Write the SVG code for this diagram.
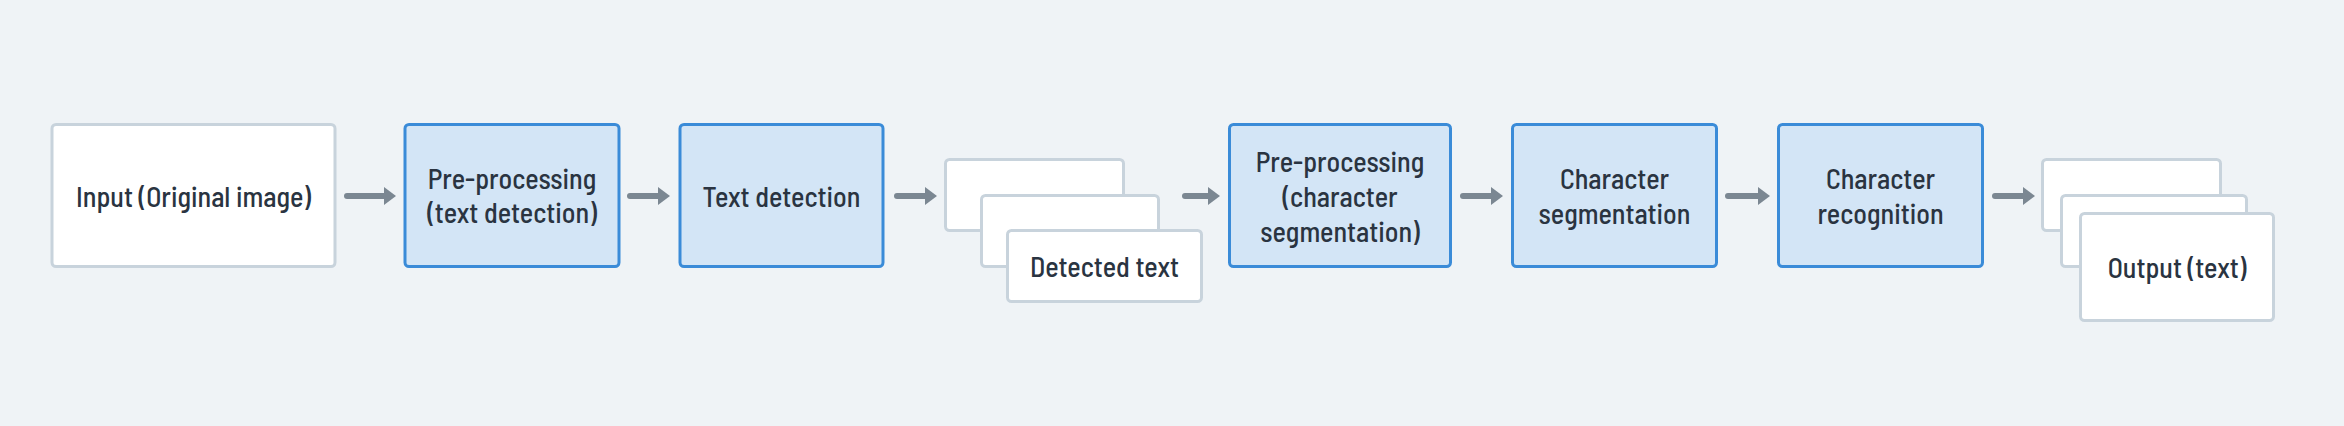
<svg xmlns="http://www.w3.org/2000/svg" width="2344" height="426" viewBox="0 0 2344 426">
<defs>
<style>
.bg{fill:#eff3f6}
.w{fill:#ffffff;stroke:#c8d3dc;stroke-width:3}
.b{fill:#d3e5f6;stroke:#3a8bd8;stroke-width:3}
.t{font-family:"Barlow Semi Condensed","Roboto Condensed","Roboto","Liberation Sans",sans-serif;font-size:28px;font-weight:500;fill:#2a3441;text-anchor:middle;dominant-baseline:central}
.c{stroke:#7b8792;stroke-width:6;stroke-linecap:round;fill:none}
.h{fill:#7b8792}
</style>
</defs>
<rect class="bg" x="0" y="0" width="2344" height="426"/>
<g id="connectors">
<line class="c" x1="347" y1="196" x2="386" y2="196"/><polygon class="h" points="384,187 396,196 384,205"/>
<line class="c" x1="630" y1="196" x2="659" y2="196"/><polygon class="h" points="658,187 670,196 658,205"/>
<line class="c" x1="897" y1="196" x2="926" y2="196"/><polygon class="h" points="925,187 937,196 925,205"/>
<line class="c" x1="1185" y1="196" x2="1209" y2="196"/><polygon class="h" points="1208,187 1220,196 1208,205"/>
<line class="c" x1="1463" y1="196" x2="1492" y2="196"/><polygon class="h" points="1491,187 1503,196 1491,205"/>
<line class="c" x1="1728" y1="196" x2="1759" y2="196"/><polygon class="h" points="1758,187 1770,196 1758,205"/>
<line class="c" x1="1995" y1="196" x2="2024" y2="196"/><polygon class="h" points="2023,187 2035,196 2023,205"/>
</g>
<g id="input"><rect class="w" x="52" y="124.5" width="283" height="142" rx="4"/><text class="t" x="193.5" y="196">Input (Original image)</text></g>
<g id="preproc-text"><rect class="b" x="405" y="124.5" width="214" height="142" rx="4"/><text class="t" x="512" y="178">Pre-processing</text><text class="t" x="512" y="212">(text detection)</text></g>
<g id="text-detection"><rect class="b" x="680" y="124.5" width="203" height="142" rx="4"/><text class="t" x="781.5" y="196">Text detection</text></g>
<g id="detected-text">
<rect class="w" x="945.5" y="159.5" width="178" height="71" rx="4"/>
<rect class="w" x="981.5" y="195.5" width="177" height="71" rx="4"/>
<rect class="w" x="1007.5" y="230.5" width="194" height="71" rx="4"/>
<text class="t" x="1104.5" y="266">Detected text</text>
</g>
<g id="preproc-char"><rect class="b" x="1229.5" y="124.5" width="221" height="142" rx="4"/><text class="t" x="1340" y="161">Pre-processing</text><text class="t" x="1340" y="196">(character</text><text class="t" x="1340" y="231">segmentation)</text></g>
<g id="char-seg"><rect class="b" x="1512.5" y="124.5" width="204" height="142" rx="4"/><text class="t" x="1614.5" y="178">Character</text><text class="t" x="1614.5" y="213">segmentation</text></g>
<g id="char-rec"><rect class="b" x="1778.5" y="124.5" width="204" height="142" rx="4"/><text class="t" x="1880.5" y="178">Character</text><text class="t" x="1880.5" y="213">recognition</text></g>
<g id="output">
<rect class="w" x="2042.5" y="159.5" width="178" height="71" rx="4"/>
<rect class="w" x="2061.5" y="195.5" width="185" height="71" rx="4"/>
<rect class="w" x="2080.5" y="213.5" width="193" height="107" rx="4"/>
<text class="t" x="2177" y="267">Output (text)</text>
</g>
</svg>
